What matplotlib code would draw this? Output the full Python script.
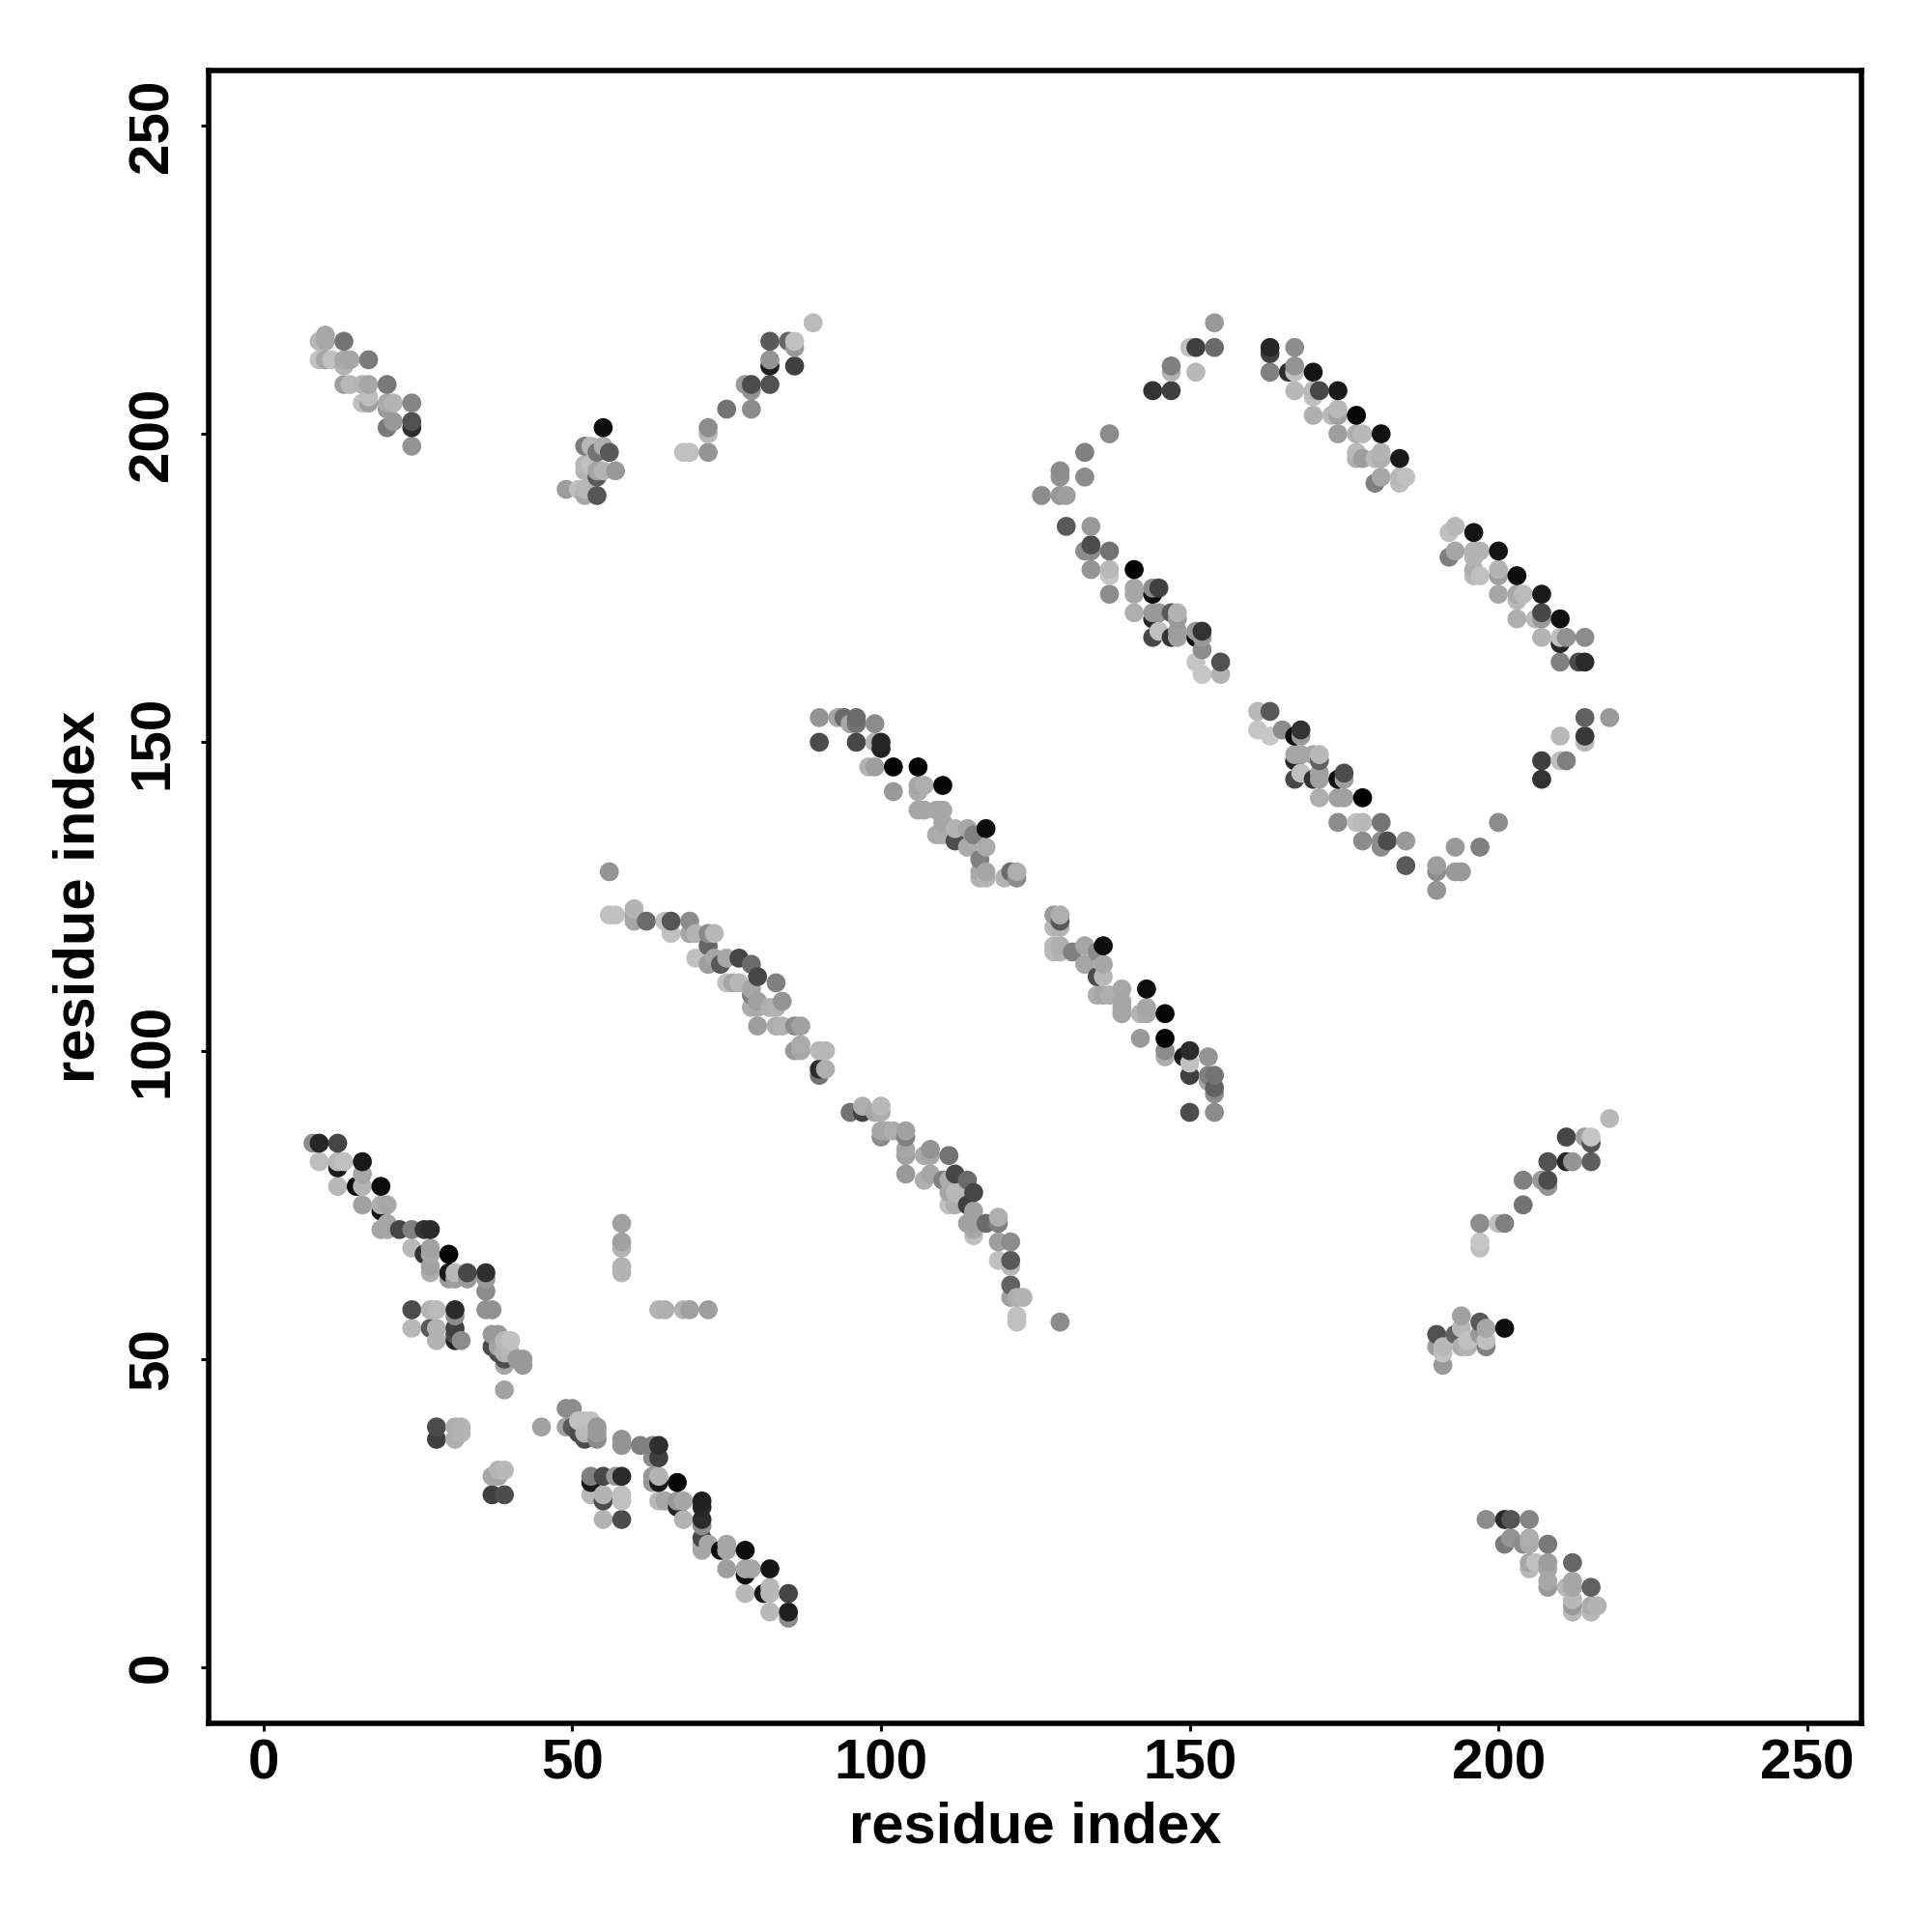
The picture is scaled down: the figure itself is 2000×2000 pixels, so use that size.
import numpy as np
import matplotlib
matplotlib.use('Agg')
import matplotlib.pyplot as plt

plt.rcParams['font.family'] = ['Liberation Sans', 'DejaVu Sans']
plt.rcParams['font.weight'] = 'bold'

# (residue i, residue j, grey level)
strand_low_a = [(8,85,.55),(9,85,.15),(12,85,.27),(9,82,.74),(12,81,.1),(12,82,.72),(13,82,.75),(16,82,.1),
    (12,78,.72),(15,78,.05),(16,78,.7),(16,80,.65),(19,78,.05),(16,75,.63),(19,75,.68),(20,75,.65),(19,74,.05),
    (19,71,.65),(20,71,.65),(20,72,.65),(22,71,.27),(24,71,.5),(26,71,.2),(27,71,.17),(24,68,.72),(26,67,.2),
    (27,68,.63),(27,65,.63),(27,64,.68),(27,67,.65),(30,67,.02),(30,64,.1),(30,63,.6),(31,64,.72),(31,63,.62),
    (33,64,.28),(33,63,.6),(36,64,.18),(36,63,.6),(36,61,.55),(24,58,.3),(27,58,.7),(28,58,.73),(31,58,.17),
    (31,57,.55),(36,58,.57),(37,58,.57),(24,55,.72),(27,55,.35),(28,55,.7),(31,55,.25),(28,53,.7),(31,53,.15),
    (31,54,.3),(32,53,.55)]
strand_low_b = [(37,52,.3),(37,54,.6),(38,54,.6),(38,51,.3),(38,52,.65),(39,53,.72),(40,53,.75),(39,50,.3),
    (39,49,.65),(40,51,.72),(39,51,.7),(41,50,.6),(42,50,.6),(42,49,.6),(39,45,.63),(28,39,.3),(31,39,.68),
    (32,39,.7),(28,37,.25),(31,37,.68),(32,38,.7),(45,39,.63),(49,42,.55),(50,42,.55),(49,39,.63),(50,39,.35),
    (51,40,.75),(52,40,.75),(53,40,.75),(51,38,.3),(52,37,.3),(53,39,.73),(52,38,.72),(54,37,.55),(54,39,.6),
    (54,38,.6),(58,37,.58),(58,36,.58),(61,36,.5),(63,36,.5),(64,36,.18),(64,34,.25),(63,34,.55)]
strand_low_c = [(53,31,.5),(53,30,.1),(55,31,.28),(57,31,.6),(58,31,.17),(53,28,.72),(55,28,.7),(58,28,.75),
    (58,27,.75),(55,27,.3),(55,24,.7),(58,24,.3),(38,31,.65),(37,31,.65),(39,32,.72),(38,32,.7),(37,28,.25),
    (39,28,.3),(63,31,.6),(63,30,.6),(64,31,.7),(64,30,.1),(67,30,.02),(64,27,.72),(65,27,.65),(67,27,.6),
    (68,27,.65),(67,26,.15),(68,24,.7),(71,27,.13),(71,26,.15),(71,24,.17),(71,23,.55),(71,21,.28),(71,19,.65),
    (72,20,.65),(71,20,.65),(74,19,.05),(75,19,.65),(75,20,.65),(78,19,.05),(75,16,.62),(78,16,.65),(79,16,.65),
    (78,15,.05),(82,16,.08),(78,12,.72),(81,12,.1),(82,12,.72),(82,13,.72),(85,12,.27),(82,9,.72),(85,9,.12),
    (85,8,.55)]
isolated_low = [(58,72,.63),(58,69,.63),(58,68,.7),(58,65,.7),(58,64,.7),(64,58,.7),(65,58,.68),(68,58,.7),
    (69,58,.63),(72,58,.62),(129,56,.55)]
strand_mid_a = [(56,129,.58),(56,122,.75),(57,122,.75),(60,123,.7),(60,122,.65),(60,121,.65),(62,121,.42),
    (65,121,.75),(66,121,.33),(66,119,.75),(69,121,.55),(69,119,.65),(70,119,.7),(72,119,.55),(72,117,.4),
    (73,119,.72),(70,115,.75),(72,114,.62),(73,115,.65),(74,114,.35),(75,115,.65),(77,115,.27),(79,114,.42),
    (80,112,.28),(75,111,.75),(76,111,.65),(77,111,.72),(79,110,.65),(79,109,.5),(83,111,.5),(79,107,.68),
    (80,108,.63),(80,107,.67),(82,107,.68),(83,107,.7),(84,108,.58),(80,104,.62),(83,104,.68),(84,104,.7),
    (86,104,.55),(87,104,.63),(86,100,.6),(87,100,.65),(87,101,.67),(90,100,.72),(91,100,.72),(90,97,.17),
    (90,96,.45),(91,97,.68)]
strand_mid_b = [(95,90,.45),(97,90,.25),(97,91,.68),(99,90,.65),(100,90,.68),(100,91,.72),(100,87,.65),(100,86,.55),
    (101,87,.65),(102,87,.68),(104,87,.63),(104,86,.5),(104,84,.65),(104,83,.63),(104,80,.6),(107,83,.67),(108,84,.58),
    (108,83,.65),(111,83,.45),(107,79,.68),(108,80,.65),(110,79,.5),(111,79,.67),(112,80,.28),(114,79,.42),
    (115,77,.27),(111,77,.65),(112,77,.72),(111,75,.75),(112,75,.68),(114,75,.25),(115,74,.63),(114,72,.63),
    (115,71,.65),(115,70,.75),(115,72,.63),(117,72,.42),(119,72,.5),(119,73,.68),(119,69,.62),(119,66,.75),
    (121,69,.55),(121,66,.35),(121,65,.72),(121,62,.38),(121,60,.63),(122,60,.68),(123,60,.7),(122,57,.75),(122,56,.75)]
strand_up_a = [(90,154,.58),(93,154,.65),(94,154,.42),(96,154,.42),(95,153,.65),(96,153,.45),(99,153,.55),(90,150,.3),
    (96,150,.28),(99,150,.7),(100,149,.13),(100,150,.15),(98,146,.7),(99,146,.62),(102,146,.01),(106,146,.01),
    (102,142,.6),(106,143,.65),(107,143,.68),(106,142,.67),(110,143,.02),(106,139,.65),(107,139,.65),(109,139,.65),
    (110,139,.65),(109,135,.67),(110,135,.67),(110,137,.65),(112,134,.3),(112,136,.7),(114,136,.65),(115,135,.5),
    (117,136,.05),(114,133,.67),(117,133,.67),(116,131,.5),(116,129,.65),(116,128,.7),(117,128,.7),(117,129,.65),
    (120,128,.7),(121,129,.42),(122,128,.55),(122,129,.68)]
strand_up_b = [(128,122,.6),(129,122,.68),(129,121,.35),(128,120,.72),(129,120,.7),(128,117,.72),(128,116,.72),
    (129,117,.68),(129,116,.7),(131,116,.5),(133,117,.65),(135,116,.55),(136,117,.05),(133,114,.65),(136,114,.65),
    (135,112,.3),(136,112,.72),(135,109,.68),(136,109,.65),(137,109,.68),(139,110,.65),(139,108,.65),(139,106,.65),
    (139,107,.65),(143,110,.05),(143,106,.66),(142,106,.7),(143,107,.65),(146,106,.02),(142,102,.6),(146,102,.01),
    (146,100,.55),(146,99,.68),(149,99,.1),(150,100,.17),(150,98,.75),(153,99,.58),(150,96,.25),(153,96,.5),
    (154,96,.45),(153,95,.65),(154,94,.38),(154,93,.55),(150,90,.3),(154,90,.55)]
loop_top = [(154,218,.6),(150,214,.75),(151,214,.25),(154,214,.42),(147,211,.5),(147,210,.7),(151,210,.72),(144,207,.2),
    (147,207,.25),(137,200,.55),(133,197,.5),(129,194,.55),(129,193,.57),(133,193,.55),(126,190,.55),(129,190,.6),
    (130,190,.62)]
loop_left = [(130,185,.35),(134,185,.6),(133,181,.55),(134,182,.3),(134,181,.55),(137,181,.45),(134,178,.58),(137,178,.72),
    (137,177,.77),(141,178,.0),(137,174,.55),(141,175,.65),(141,174,.65),(144,175,.55),(144,174,.05),(145,175,.25),
    (141,171,.68),(144,171,.6),(145,171,.6),(144,170,.15),(147,171,.35),(148,171,.7),(148,170,.6),(144,167,.28),
    (145,168,.75),(147,167,.2),(148,168,.62),(148,167,.63),(151,168,.6),(151,167,.05),(152,168,.2),(152,167,.6),
    (152,165,.55),(151,163,.77),(152,161,.77),(155,163,.32),(155,161,.7)]
loop_right = [(163,214,.15),(163,213,.25),(167,214,.55),(163,210,.5),(166,210,.18),(167,210,.75),(167,211,.58),(170,210,.08),
    (167,207,.72),(170,207,.72),(170,206,.75),(171,207,.28),(174,207,.1),(170,203,.68),(173,203,.72),(174,203,.63),
    (174,204,.72),(177,203,.02),(174,200,.62),(177,200,.68),(178,200,.72),(181,200,.07),(177,197,.72),(177,196,.68),
    (178,196,.62),(180,196,.72),(181,197,.7),(181,196,.68),(184,196,.1),(180,192,.5),(181,193,.65),(184,193,.72),
    (184,192,.74),(185,193,.75)]
loop_far = [(192,184,.75),(193,185,.72),(196,184,.08),(192,180,.5),(193,181,.65),(196,181,.7),(197,181,.7),(196,180,.7),
    (200,181,.08),(196,178,.68),(196,177,.72),(197,177,.75),(200,178,.7),(200,177,.62),(203,177,.05),(200,174,.65),
    (203,174,.66),(203,173,.72),(204,174,.73),(207,174,.1),(203,170,.68),(206,170,.73),(207,171,.28),(207,170,.6),
    (210,170,.07),(207,167,.7),(210,167,.75),(210,166,.15),(211,167,.57),(214,167,.55),(210,163,.5),(213,163,.3),
    (214,163,.17)]
loop_low = [(161,155,.72),(163,155,.35),(161,152,.77),(163,151,.78),(165,152,.55),(167,151,.05),(168,151,.6),(168,152,.2),
    (167,148,.65),(168,148,.65),(170,148,.65),(171,148,.72),(167,147,.15),(171,147,.38),(167,144,.28),(168,145,.75),
    (170,144,.2),(171,145,.63),(171,144,.63),(174,144,.05),(175,144,.62),(175,145,.3),(171,141,.68),(174,141,.63),
    (175,141,.63),(178,141,.0),(174,137,.55),(177,137,.75),(178,137,.72),(181,137,.45),(178,134,.55),(181,134,.55),
    (181,133,.55),(182,134,.3),(185,134,.6),(185,130,.35),(190,130,.62),(190,129,.55),(193,129,.6),(194,129,.6),
    (190,126,.58),(193,133,.6),(197,133,.5),(200,137,.55),(218,154,.6),(214,154,.38),(210,151,.72),(214,151,.22),
    (214,150,.72),(207,147,.25),(210,147,.75),(211,147,.5),(207,144,.2)]
top_left = [(9,215,.72),(10,216,.66),(10,215,.66),(13,215,.45),(9,212,.75),(10,212,.65),(11,212,.75),(13,212,.66),
    (13,211,.7),(14,212,.65),(17,212,.48),(13,208,.62),(14,208,.72),(16,208,.7),(17,208,.65),(20,208,.47),(16,205,.75),
    (17,205,.62),(17,206,.74),(20,205,.67),(21,205,.7),(20,204,.6),(24,205,.52),(20,201,.48),(21,202,.6),(24,202,.32),
    (24,201,.18),(24,198,.58)]
top_mid = [(55,201,.05),(52,198,.48),(53,198,.72),(55,198,.68),(56,197,.35),(54,197,.45),(52,195,.72),(53,195,.75),
    (52,194,.7),(54,194,.65),(55,194,.7),(57,194,.6),(54,193,.35),(49,191,.62),(51,191,.75),(52,191,.72),(52,190,.65),
    (54,190,.33)]
top_right = [(89,218,.73),(82,215,.35),(85,215,.4),(86,215,.75),(86,214,.6),(82,212,.58),(82,211,.12),(86,211,.25),
    (78,208,.6),(79,208,.3),(79,207,.58),(82,208,.32),(75,204,.45),(79,204,.55),(72,201,.55),(72,200,.72),(68,197,.75),
    (69,197,.75),(72,197,.58)]
right_up = [(218,89,.72),(211,86,.27),(214,86,.62),(215,86,.77),(215,85,.33),(208,82,.32),(211,82,.15),(212,82,.58),
    (215,82,.37),(204,79,.5),(207,79,.6),(208,79,.3),(208,78,.58),(204,75,.45),(197,72,.55),(200,72,.75),(201,72,.5),
    (197,69,.77),(197,68,.75)]
right_mid = [(201,55,.05),(197,56,.35),(194,57,.63),(198,55,.65),(197,54,.6),(198,53,.75),(198,52,.5),(194,55,.72),
    (193,54,.38),(190,54,.32),(194,52,.68),(195,52,.7),(195,53,.75),(190,52,.62),(191,52,.72),(191,51,.76),(191,49,.6)]
right_low = [(198,24,.55),(201,24,.17),(202,24,.33),(205,24,.52),(201,20,.48),(202,21,.58),(204,20,.55),(205,21,.68),
    (205,20,.67),(208,20,.47),(205,17,.65),(205,16,.72),(206,17,.75),(208,17,.62),(208,16,.65),(208,14,.66),(208,13,.6),
    (212,17,.4),(211,13,.72),(212,14,.65),(212,13,.65),(215,13,.38),(212,11,.72),(212,10,.6),(212,9,.72),(215,10,.67),
    (216,10,.7),(215,9,.72)]

tick_values = [0, 50, 100, 150, 200, 250]

pts = np.array(strand_low_a + strand_low_b + strand_low_c + isolated_low + strand_mid_a + strand_mid_b
               + strand_up_a + strand_up_b + loop_top + loop_left + loop_right + loop_far + loop_low
               + top_left + top_mid + top_right + right_up + right_mid + right_low)
# later residues are drawn on top, as in the source plot
pts = pts[np.lexsort((pts[:, 1], pts[:, 0]))]

fig = plt.figure(figsize=(10, 10), dpi=200)
ax = fig.add_axes([216/2000, 1-1784/2000, (1927-216)/2000, (1784-73)/2000])

ax.scatter(pts[:, 0], pts[:, 1], c=pts[:, 2], cmap='gray', vmin=0, vmax=1,
           s=50, linewidths=0, zorder=2)

ax.set_xlim(-8.9, 258.8)
ax.set_ylim(-9.05, 258.9)
ax.set_xticks(tick_values)
ax.set_yticks(tick_values)
ax.tick_params(length=3, width=1.1, labelsize=21)
ax.tick_params(axis='x', pad=2.5)
ax.tick_params(axis='y', pad=8)
plt.setp(ax.get_yticklabels(), rotation=90, va='center')
for s in ax.spines.values():
    s.set_linewidth(2.0)

ax.set_xlabel('residue index', fontsize=21.5, fontweight='bold')
ax.set_ylabel('residue index', fontsize=21.5, fontweight='bold')
ax.xaxis.set_label_coords(0.5, -0.047)
ax.yaxis.set_label_coords(-0.062, 0.5)

fig.savefig('out.png', dpi=200)
